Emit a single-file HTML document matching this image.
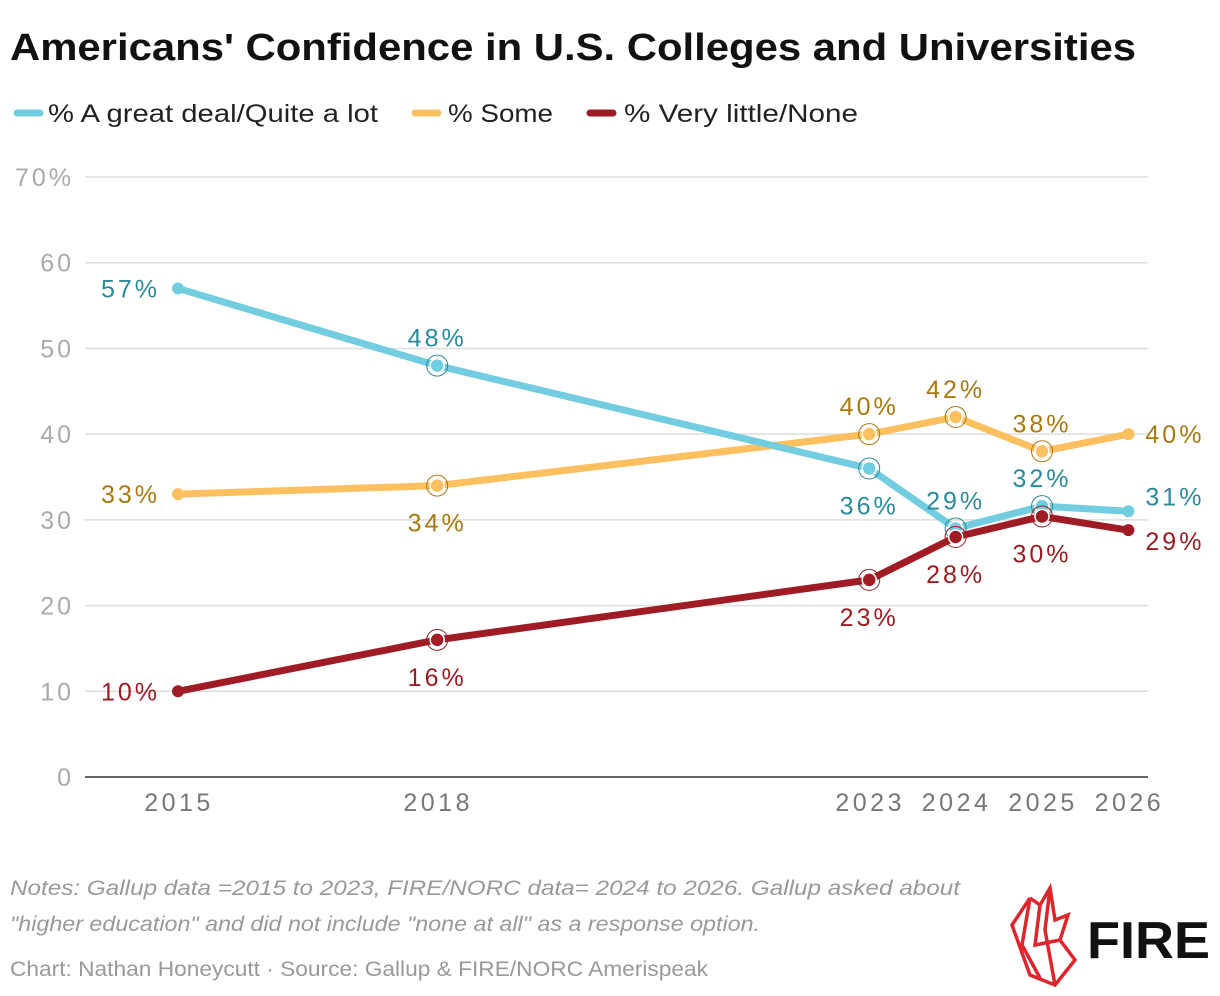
<!DOCTYPE html>
<html><head><meta charset="utf-8"><style>
body{margin:0;background:#fff;font-family:"Liberation Sans",sans-serif;}
#wrap{position:relative;width:1220px;height:996px;overflow:hidden;background:#fff}
svg text{font-family:"Liberation Sans",sans-serif}
</style></head><body>
<div id="wrap">
<svg id="chart" width="1220" height="996">
<text x="10" y="60" font-size="38" font-weight="bold" fill="#111" textLength="1126" lengthAdjust="spacingAndGlyphs">Americans' Confidence in U.S. Colleges and Universities</text>
<g>
<g><line x1="17" y1="113" x2="40" y2="113" stroke="#72cde0" stroke-width="7" stroke-linecap="round"/><text x="48" y="122" font-size="25" fill="#222" textLength="330" lengthAdjust="spacingAndGlyphs">% A great deal/Quite a lot</text></g>
<g><line x1="415" y1="113" x2="438" y2="113" stroke="#fdc060" stroke-width="7" stroke-linecap="round"/><text x="448" y="122" font-size="25" fill="#222" textLength="105" lengthAdjust="spacingAndGlyphs">% Some</text></g>
<g><line x1="590" y1="113" x2="613" y2="113" stroke="#a01c24" stroke-width="7" stroke-linecap="round"/><text x="624" y="122" font-size="25" fill="#222" textLength="234" lengthAdjust="spacingAndGlyphs">% Very little/None</text></g>
</g>
<g id="grid"></g>
<g id="yticks"></g>
<g id="xticks"></g>
<g id="series"></g>
<text x="10" y="895" font-size="21" font-style="italic" fill="#999" textLength="950" lengthAdjust="spacingAndGlyphs">Notes: Gallup data =2015 to 2023, FIRE/NORC data= 2024 to 2026. Gallup asked about</text>
<text x="10" y="931" font-size="21" font-style="italic" fill="#999" textLength="750" lengthAdjust="spacingAndGlyphs">"higher education" and did not include "none at all" as a response option.</text>
<text x="10" y="976" font-size="21" fill="#999" textLength="698" lengthAdjust="spacingAndGlyphs">Chart: Nathan Honeycutt · Source: Gallup &amp; FIRE/NORC Amerispeak</text>
<g>
<g fill="none" stroke="#e0242b" stroke-width="3.5" stroke-linejoin="miter">
<polyline points="1030,898 1012,925 1030,975 1055,985 1075,960 1060,940 1068,915 1055,920 1050,888 1040,905 1030,898"/>
<polyline points="1030,898 1022,945 1040,978"/>
<polyline points="1050,888 1045,930 1055,985"/>
<polyline points="1040,905 1035,945 1060,940"/>
</g>
<text x="1087" y="958" font-size="52" font-weight="bold" fill="#111" textLength="123" lengthAdjust="spacingAndGlyphs">FIRE</text>
</g>
</svg>
</div>
<script>
const years=[2015,2018,2023,2024,2025,2026];
const greatDeal=[57,48,36,29,31.6,31];
const some=[33,34,40,42,38,40];
const veryLittle=[10,16,23,28,30.4,28.8];
const greatDealLabels=["57%","48%","36%","29%","32%","31%"];
const someLabels=["33%","34%","40%","42%","38%","40%"];
const veryLittleLabels=["10%","16%","23%","28%","30%","29%"];
const yTicks=[0,10,20,30,40,50,60,70];
const yTickLabels=["0","10","20","30","40","50","60","70%"];
const greatDealPos=["left","above","below","above","above","right-up"];
const somePos=["left","below","above","above","above","right"];
const veryLittlePos=["left","below","below","below","below","right-down"];

const NS="http://www.w3.org/2000/svg";
function xs(y){return 178+(y-2015)*86.4;}
function ys(v){return 777-v*8.571;}
function mk(tag,attrs,parent){const e=document.createElementNS(NS,tag);for(const k in attrs)e.setAttribute(k,attrs[k]);parent.appendChild(e);return e;}
const grid=document.getElementById('grid'),yt=document.getElementById('yticks'),xt=document.getElementById('xticks'),ser=document.getElementById('series');
yTicks.forEach((t,i)=>{
  const l=mk('line',{x1:85,x2:1148,y1:ys(t),y2:ys(t),stroke:t===0?'#333':'#ddd','stroke-width':1.5},grid);
  
  
  const tx=mk('text',{x:74,y:ys(t)+9,'text-anchor':'end','font-size':25,fill:'#aaa','letter-spacing':3},yt);
  tx.textContent=yTickLabels[i];
  
  
});
years.forEach(y=>{
  const tx=mk('text',{x:xs(y)+1,y:811,'text-anchor':'middle','font-size':25,fill:'#777','letter-spacing':3.5},xt);
  tx.textContent=y;
  
  
});
function series(vals,labels,pos,color,lc,name){
  const g=mk('g',{},ser);
  
  
  const p=mk('polyline',{points:vals.map((v,i)=>xs(years[i])+','+ys(v)).join(' '),fill:'none',stroke:color,'stroke-width':7,'stroke-linejoin':'round'},g);
  
  
  vals.forEach((v,i)=>{
    const cx=xs(years[i]),cy=ys(v);
    const last=i===0||i===vals.length-1;
    const d=mk('circle',{cx:cx,cy:cy,r:last?6:7,fill:color,stroke:last?'none':'#fff','stroke-width':last?0:1.5},g);
    
    
    if(!last){const o=mk('circle',{cx:cx,cy:cy,r:10.5,fill:'none',stroke:lc,'stroke-width':1},g);
      
      }
    let x=cx,y=cy,a='middle';
    if(pos[i]==='left'){x=cx-18;y=cy+9;a='end';}
    else if(pos[i]==='right'){x=cx+17;y=cy+9;a='start';}
    else if(pos[i]==='right-up'){x=cx+17;y=cy-6;a='start';}
    else if(pos[i]==='right-down'){x=cx+17;y=cy+20;a='start';}
    else if(pos[i]==='above'){y=cy-19;}
    else {y=cy+46;}
    const t=mk('text',{x:x,y:y,'text-anchor':a,'font-size':25,fill:lc,'letter-spacing':3},g);
    t.textContent=labels[i];
    
    
  });
}
series(some,someLabels,somePos,'#fdc060','#a8790f','some');
series(greatDeal,greatDealLabels,greatDealPos,'#72cde0','#2a8a9a','great-deal');
series(veryLittle,veryLittleLabels,veryLittlePos,'#a01c24','#9b1c22','very-little');
</script>
</body></html>
